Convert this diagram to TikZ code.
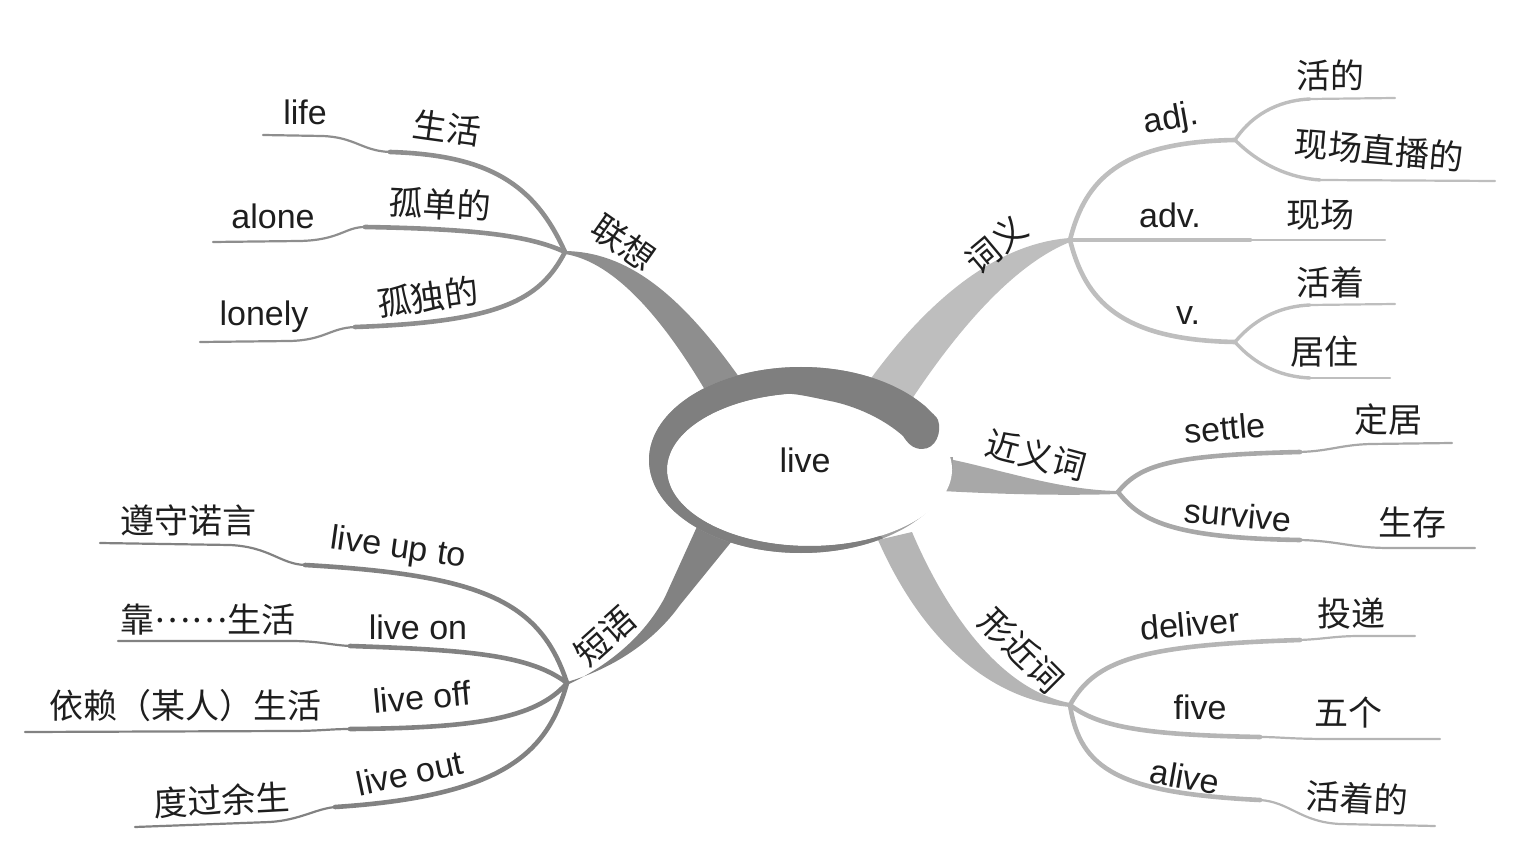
\documentclass[tikz,border=0pt]{standalone}
\usepackage{fontspec}
\setmainfont{Liberation Sans}
\newfontfamily\cjk{Noto Sans CJK SC}
\definecolor{lxc}{HTML}{8E8E8E}
\definecolor{cyc}{HTML}{BEBEBE}
\definecolor{jyc}{HTML}{A8A8A8}
\definecolor{xjc}{HTML}{B5B5B5}
\definecolor{dyc}{HTML}{828282}
\definecolor{ringdark}{HTML}{7F7F7F}
\definecolor{rimc}{HTML}{A0A0A0}
\definecolor{txt}{HTML}{1E1E1E}
\begin{document}
\begin{tikzpicture}[x=0.5pt,y=-0.5pt,
  innerseg/.style={line width=2.3pt, line cap=round},
  outerseg/.style={line width=1.1pt, line cap=round},
  en/.style={font=\fontsize{17}{20}\selectfont, text=txt, inner sep=0pt},
  zh/.style={font=\fontsize{17}{20}\selectfont\cjk, text=txt, inner sep=0pt}]
\useasboundingbox (0,0) rectangle (1524,865);

% fork points
\coordinate (F1) at (565,252);
\coordinate (F2) at (1070,240);
\coordinate (A2) at (1235,140);
\coordinate (V2) at (1235,342);
\coordinate (F3) at (1118,492);
\coordinate (F4) at (1070,705);
\coordinate (F5) at (567,683);

% ---------- 联想 ----------
\draw[innerseg, lxc] (F1) .. controls (535,185) and (490,155) .. (390,152) coordinate (k11);
\draw[outerseg, lxc] (k11) .. controls (362,151) and (355,137) .. (322,136) -- (263,135) coordinate (e11);
\draw[innerseg, lxc] (F1) .. controls (530,236) and (480,229) .. (365,227) coordinate (k12);
\draw[outerseg, lxc] (k12) .. controls (345,227) and (340,240) .. (300,241) -- (213,242) coordinate (e12);
\draw[innerseg, lxc] (F1) .. controls (540,300) and (500,322) .. (355,327) coordinate (k13);
\draw[outerseg, lxc] (k13) .. controls (330,328) and (325,340) .. (290,341) -- (200,342) coordinate (e13);
\fill[lxc] (565,251) .. controls (625,252) and (680,290) .. (748,390) -- (712,402) .. controls (665,320) and (615,262) .. (565,254) -- cycle;

% ---------- 词义 ----------
\draw[innerseg, cyc] (F2) .. controls (1085,180) and (1120,142) .. (A2);
\draw[innerseg, cyc] (F2) -- (1250,240) coordinate (k22);
\draw[outerseg, cyc] (k22) -- (1385,240) coordinate (e22);
\draw[innerseg, cyc] (F2) .. controls (1085,300) and (1120,340) .. (V2);
\draw[line width=1.7pt, line cap=round, cyc] (A2) .. controls (1255,110) and (1285,100) .. (1310,99) coordinate (k21);
\draw[outerseg, cyc] (k21) -- (1395,98) coordinate (e21);
\draw[line width=1.7pt, line cap=round, cyc] (A2) .. controls (1260,165) and (1290,178) .. (1320,180) coordinate (k23);
\draw[outerseg, cyc] (k23) -- (1495,181) coordinate (e23);
\draw[line width=1.7pt, line cap=round, cyc] (V2) .. controls (1258,315) and (1285,306) .. (1310,305) coordinate (k24);
\draw[outerseg, cyc] (k24) -- (1395,304) coordinate (e24);
\draw[line width=1.7pt, line cap=round, cyc] (V2) .. controls (1258,368) and (1285,377) .. (1310,378) coordinate (k25);
\draw[outerseg, cyc] (k25) -- (1390,378) coordinate (e25);
\fill[cyc] (1070,238) .. controls (1000,243) and (930,295) .. (864,388) -- (910,402) .. controls (952,338) and (1010,266) .. (1070,242) -- cycle;

% ---------- 近义词 ----------
\draw[innerseg, jyc] (F3) .. controls (1140,465) and (1170,455) .. (1300,452) coordinate (k31);
\draw[outerseg, jyc] (k31) .. controls (1330,451) and (1340,445) .. (1370,444) -- (1452,443) coordinate (e31);
\draw[innerseg, jyc] (F3) .. controls (1140,520) and (1170,538) .. (1300,540) coordinate (k32);
\draw[outerseg, jyc] (k32) .. controls (1340,541) and (1350,548) .. (1390,548) -- (1475,548) coordinate (e32);
\fill[jyc] (925,455) .. controls (980,462) and (1050,490) .. (1118,491) -- (1118,494) .. controls (1060,496) and (990,494) .. (925,490) -- cycle;

% ---------- 形近词 ----------
\draw[innerseg, xjc] (F4) .. controls (1095,660) and (1140,645) .. (1300,640) coordinate (k41);
\draw[outerseg, xjc] (k41) .. controls (1325,639) and (1335,636) .. (1360,636) -- (1415,636) coordinate (e41);
\draw[innerseg, xjc] (F4) .. controls (1100,728) and (1150,735) .. (1260,737) coordinate (k42);
\draw[outerseg, xjc] (k42) .. controls (1280,737) and (1290,739) .. (1330,739) -- (1440,739) coordinate (e42);
\draw[innerseg, xjc] (F4) .. controls (1080,770) and (1120,793) .. (1260,800) coordinate (k43);
\draw[outerseg, xjc] (k43) .. controls (1290,802) and (1300,822) .. (1340,824) -- (1435,826) coordinate (e43);
\fill[xjc] (912,532) .. controls (945,610) and (1000,690) .. (1070,703) -- (1070,707) .. controls (990,700) and (922,640) .. (878,540) -- cycle;

% ---------- 短语 ----------
\draw[innerseg, dyc] (F5) .. controls (540,600) and (480,575) .. (305,565) coordinate (k51);
\draw[outerseg, dyc] (k51) .. controls (280,564) and (270,547) .. (230,545) -- (100,543) coordinate (e51);
\draw[innerseg, dyc] (F5) .. controls (530,655) and (470,650) .. (350,646) coordinate (k52);
\draw[outerseg, dyc] (k52) .. controls (330,645) and (320,641) .. (290,641) -- (118,641) coordinate (e52);
\draw[innerseg, dyc] (F5) .. controls (535,720) and (470,728) .. (350,729) coordinate (k53);
\draw[outerseg, dyc] (k53) .. controls (330,729) and (320,731) .. (290,731) -- (25,732) coordinate (e53);
\draw[innerseg, dyc] (F5) .. controls (548,752) and (505,796) .. (335,807) coordinate (k54);
\draw[outerseg, dyc] (k54) .. controls (315,809) and (300,820) .. (270,822) -- (135,827) coordinate (e54);
\fill[dyc] (567,682) .. controls (615,668) and (655,640) .. (680,605) -- (745,525) -- (700,520) -- (665,597) .. controls (645,635) and (610,665) .. (567,685) -- cycle;

% ---------- central ring ----------
\fill[rimc] (801,460) ellipse [x radius=76pt, y radius=46.5pt];
\fill[white] (809.5,469.5) ellipse [x radius=71.25pt, y radius=38.25pt];
\begin{scope}
  \clip (805,462) -- (1405,182) -- (1405,-200) -- (-200,-200) -- (-200,1100) -- (1125,1100) -- (1125,774) -- cycle;
  \fill[ringdark, even odd rule] (801,460) ellipse [x radius=76pt, y radius=46.5pt]
     (809.5,469.5) ellipse [x radius=71.25pt, y radius=38.25pt];
\end{scope}
\begin{scope}
  \clip (860,457) -- (860,436.3) -- (1405,182) -- (1405,457) -- cycle;
  \fill[white] (801,460) ellipse [x radius=77pt, y radius=47.5pt];
\end{scope}
\fill[ringdark] (800,382) .. controls (850,383) and (900,392) .. (925,406)
  .. controls (932,413) and (937,417) .. (938,420)
  .. controls (942,432) and (936,449) .. (922,449)
  .. controls (912,449) and (907,442) .. (903,436)
  .. controls (885,420) and (860,408) .. (835,402)
  .. controls (815,398) and (800,394) .. (785,393.5) -- cycle;

% ---------- texts ----------
\node[en] (live) at (805,460) {live};

\node[zh, rotate=-35] (lx) at (624,243) {联想};
\node[en] (life) at (305,112) {life};
\node[zh, rotate=-8] (shenghuo) at (447,128) {生活};
\node[en] (alone) at (273,216) {alone};
\node[zh, rotate=-3] (gudan) at (440,204) {孤单的};
\node[en] (lonely) at (264,317) {lonely};
\node[zh, rotate=8] (gudu) at (428,297) {孤独的};

\node[zh, rotate=40] (cy) at (996,245) {词义};
\node[en, rotate=10] (adj) at (1171,120) {adj.};
\node[zh] (huode) at (1330,76) {活的};
\node[zh, rotate=-5] (xczb) at (1379,150) {现场直播的};
\node[en] (adv) at (1170,215) {adv.};
\node[zh] (xc) at (1320,215) {现场};
\node[en] (vv) at (1188,316) {v.};
\node[zh] (huozhe) at (1330,283) {活着};
\node[zh] (juzhu) at (1324,352) {居住};

\node[zh, rotate=-15] (jyc) at (1036,455) {近义词};
\node[en, rotate=5] (settle) at (1225,428) {settle};
\node[zh] (dingju) at (1388,420) {定居};
\node[en, rotate=-5] (survive) at (1238,515) {survive};
\node[zh] (shengcun) at (1412,523) {生存};

\node[zh, rotate=-45] (xjc) at (1022,650) {形近词};
\node[en, rotate=5] (deliver) at (1190,624) {deliver};
\node[zh] (toudi) at (1351,614) {投递};
\node[en] (five) at (1200,707) {five};
\node[zh] (wuge) at (1348,713) {五个};
\node[en, rotate=-10] (alive) at (1185,777) {alive};
\node[zh, rotate=-3] (huozhede) at (1357,798) {活着的};

\node[zh, rotate=42] (dy) at (605,636) {短语};
\node[zh] (zunshou) at (188,520) {遵守诺言};
\node[en, rotate=-8] (liveupto) at (398,549) {live up to};
\node[zh] (kao) at (208,620) {靠\raisebox{0.32em}{……}生活};
\node[en] (liveon) at (418,627) {live on};
\node[zh] (yilai) at (185,706) {依赖（某人）生活};
\node[en, rotate=5] (liveoff) at (422,697) {live off};
\node[zh, rotate=3] (duguo) at (222,800) {度过余生};
\node[en, rotate=12] (liveout) at (410,773) {live out};
\end{tikzpicture}
\end{document}
